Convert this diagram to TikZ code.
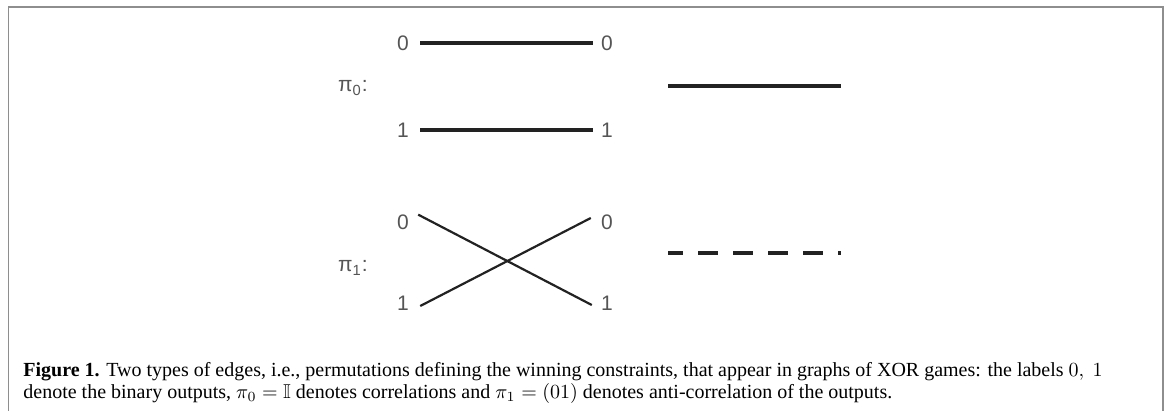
\documentclass[tikz,border=0pt]{standalone}
\usepackage{amsmath,amssymb}
\usepackage{fontspec}
\setmainfont{Liberation Serif}
\newfontfamily\portfont{Liberation Sans}
\usepackage{xcolor}
\usetikzlibrary{positioning}
\definecolor{framegray}{HTML}{8E8E8E}
\definecolor{portgray}{HTML}{555555}
\definecolor{edgeink}{HTML}{222222}

\begin{document}
\begin{tikzpicture}[x=0.5pt,y=-0.5pt,
  port/.style={font=\portfont\fontsize{10.5}{12}\selectfont,text=portgray,inner sep=0pt},
  permname/.style={font=\portfont\fontsize{10.5}{12}\selectfont,text=portgray,inner sep=0pt,anchor=east},
  wire/.style={line width=1.6pt,draw=edgeink,shorten <=5.5pt,shorten >=4pt},
  twist/.style={line width=1.1pt,draw=edgeink},
  keyline/.style={line width=1.6pt,draw=edgeink},
  ]
  \useasboundingbox (0,0) rectangle (1168,411);
  % ---- frame ----
  \draw[framegray,line width=0.8pt] (8.5,411) -- (8.5,7) -- (1163,7) -- (1163,411);

  % ---- pi_0: identity ----
  \node[permname] (p0) at (368,88) {π\textsubscript{0}:};
  \node[port] (a0) at (403,43)  {0};
  \node[port] (b0) at (607,43)  {0};
  \node[port] (a1) at (403,130) {1};
  \node[port] (b1) at (607,130) {1};
  \draw[wire] (a0.east) -- (b0.west);
  \draw[wire] (a1.east) -- (b1.west);

  % ---- pi_1: swap ----
  \node[permname] (p1) at (368,268) {π\textsubscript{1}:};
  \node[port] (c0) at (403,222) {0};
  \node[port] (d0) at (607,222) {0};
  \node[port] (c1) at (403,303) {1};
  \node[port] (d1) at (607,303) {1};
  \draw[twist] ([shift={(9,0.5)}]c0.north east) -- ([shift={(-9,2)}]d1.west);
  \draw[twist] ([shift={(11,3)}]c1.east) -- ([shift={(-10,-4)}]d0.west);

  % ---- edge key ----
  \coordinate (k0) at (668,86);
  \coordinate (k1) at (841,86);
  \coordinate (m0) at (668,253);
  \coordinate (m1) at (841,253);
  \draw[keyline] (k0) -- (k1);
  \draw[keyline,dash pattern=on 10pt off 7.5pt,dash phase=2.5pt] (m0) -- (m1);

  % ---- caption ----
  \node[anchor=north west,inner sep=0pt,align=left,
        font=\fontsize{10}{11}\selectfont] (cap) at (23,362)
    {\textbf{Figure 1.} Two types of edges, i.e., permutations defining the winning constraints, that appear in graphs of XOR games: the labels $0,\ 1$\\
     denote the binary outputs, $\pi_0=\mathbb{I}$ denotes correlations and $\pi_1=(01)$ denotes anti-correlation of the outputs.};
\end{tikzpicture}
\end{document}
